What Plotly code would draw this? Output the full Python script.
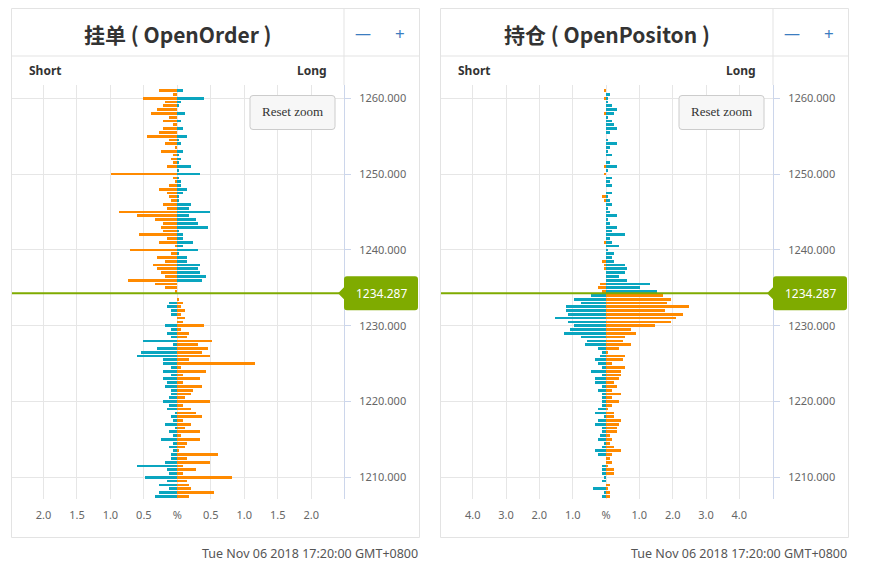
import plotly.graph_objects as go

# page body has an 8px margin: figure sized to fit, coordinates given in window pixels
OFF = 8
W, H = 860, 553
PRICE = 1234.287

LEVELS = [
    1261.0, 1260.5, 1260.0, 1259.5, 1259.0, 1258.5, 1258.0, 1257.5, 1257.0, 1256.5,
    1256.0, 1255.5, 1255.0, 1254.5, 1254.0, 1253.5, 1253.0, 1252.5, 1252.0, 1251.5,
    1251.0, 1250.5, 1250.0, 1249.5, 1249.0, 1248.5, 1248.0, 1247.5, 1247.0, 1246.5,
    1246.0, 1245.5, 1245.0, 1244.5, 1244.0, 1243.5, 1243.0, 1242.5, 1242.0, 1241.5,
    1241.0, 1240.5, 1240.0, 1239.5, 1239.0, 1238.5, 1238.0, 1237.5, 1237.0, 1236.5,
    1236.0, 1235.5, 1235.0, 1234.5, 1234.0, 1233.5, 1233.0, 1232.5, 1232.0, 1231.5,
    1231.0, 1230.5, 1230.0, 1229.5, 1229.0, 1228.5, 1228.0, 1227.5, 1227.0, 1226.5,
    1226.0, 1225.5, 1225.0, 1224.5, 1224.0, 1223.5, 1223.0, 1222.5, 1222.0, 1221.5,
    1221.0, 1220.5, 1220.0, 1219.5, 1219.0, 1218.5, 1218.0, 1217.5, 1217.0, 1216.5,
    1216.0, 1215.5, 1215.0, 1214.5, 1214.0, 1213.5, 1213.0, 1212.5, 1212.0, 1211.5,
    1211.0, 1210.5, 1210.0, 1209.5, 1209.0, 1208.5, 1208.0, 1207.5,
]

# OpenOrder (挂单) — percentage at each price level
ORDER_SHORT = [
    0.28, 0.06, 0.52, 0.18, 0.21, 0.31, 0.40, 0.12, 0.21, 0.06,
    0.21, 0.28, 0.46, 0.12, 0.18, 0.03, 0.24, 0.06, 0.09, 0.06,
    0.15, 0.00, 0.99, 0.06, 0.03, 0.12, 0.28, 0.15, 0.12, 0.09,
    0.21, 0.15, 0.87, 0.61, 0.34, 0.21, 0.24, 0.21, 0.58, 0.15,
    0.28, 0.03, 0.70, 0.09, 0.31, 0.18, 0.37, 0.31, 0.24, 0.18,
    0.73, 0.34, 0.18, 0.03, 0.00, 0.00, 0.12, 0.15, 0.09, 0.09,
    0.00, 0.00, 0.18, 0.09, 0.15, 0.09, 0.52, 0.06, 0.31, 0.55,
    0.61, 0.21, 0.21, 0.09, 0.21, 0.09, 0.21, 0.15, 0.18, 0.09,
    0.09, 0.12, 0.21, 0.12, 0.15, 0.03, 0.09, 0.06, 0.18, 0.03,
    0.12, 0.06, 0.24, 0.06, 0.12, 0.06, 0.09, 0.09, 0.18, 0.61,
    0.15, 0.12, 0.49, 0.15, 0.28, 0.12, 0.28, 0.34,
]
ORDER_LONG = [
    0.09, 0.00, 0.40, 0.06, 0.03, 0.00, 0.12, 0.00, 0.06, 0.00,
    0.09, 0.00, 0.15, 0.03, 0.06, 0.00, 0.09, 0.03, 0.06, 0.03,
    0.21, 0.03, 0.34, 0.03, 0.06, 0.06, 0.15, 0.09, 0.03, 0.03,
    0.21, 0.18, 0.49, 0.18, 0.28, 0.31, 0.46, 0.03, 0.09, 0.09,
    0.24, 0.09, 0.31, 0.03, 0.15, 0.15, 0.34, 0.31, 0.34, 0.43,
    0.37, 0.00, 0.00, 0.00, 0.00, 0.03, 0.09, 0.06, 0.12, 0.06,
    0.12, 0.09, 0.40, 0.06, 0.18, 0.15, 0.52, 0.31, 0.46, 0.37,
    0.49, 0.18, 1.16, 0.06, 0.43, 0.09, 0.34, 0.09, 0.37, 0.24,
    0.21, 0.12, 0.49, 0.09, 0.21, 0.28, 0.37, 0.09, 0.21, 0.12,
    0.34, 0.06, 0.34, 0.15, 0.12, 0.03, 0.61, 0.15, 0.49, 0.09,
    0.28, 0.09, 0.81, 0.15, 0.18, 0.21, 0.55, 0.18,
]

# OpenPositon (持仓)
POS_SHORT = [
    0.06, 0.00, 0.06, 0.00, 0.00, 0.00, 0.06, 0.00, 0.00, 0.00,
    0.00, 0.00, 0.00, 0.00, 0.00, 0.00, 0.00, 0.00, 0.00, 0.00,
    0.06, 0.00, 0.06, 0.00, 0.00, 0.00, 0.00, 0.00, 0.12, 0.06,
    0.00, 0.00, 0.00, 0.00, 0.00, 0.00, 0.00, 0.00, 0.00, 0.00,
    0.06, 0.00, 0.00, 0.00, 0.00, 0.12, 0.06, 0.06, 0.00, 0.00,
    0.00, 0.18, 0.24, 0.12, 0.45, 0.96, 0.75, 1.20, 1.20, 1.14,
    1.53, 1.14, 0.96, 1.08, 1.26, 0.75, 0.57, 0.63, 0.24, 0.12,
    0.18, 0.33, 0.24, 0.12, 0.45, 0.12, 0.33, 0.33, 0.12, 0.24,
    0.12, 0.12, 0.12, 0.12, 0.24, 0.33, 0.06, 0.24, 0.33, 0.12,
    0.12, 0.18, 0.24, 0.06, 0.12, 0.33, 0.24, 0.00, 0.00, 0.12,
    0.12, 0.12, 0.06, 0.12, 0.00, 0.39, 0.06, 0.12,
]
POS_LONG = [
    0.00, 0.12, 0.06, 0.06, 0.18, 0.33, 0.24, 0.06, 0.18, 0.24,
    0.33, 0.12, 0.00, 0.06, 0.33, 0.12, 0.06, 0.18, 0.00, 0.12,
    0.33, 0.06, 0.00, 0.18, 0.12, 0.18, 0.00, 0.18, 0.06, 0.12,
    0.18, 0.06, 0.12, 0.33, 0.06, 0.12, 0.33, 0.18, 0.57, 0.12,
    0.18, 0.39, 0.06, 0.24, 0.18, 0.24, 0.57, 0.63, 0.57, 0.39,
    0.63, 1.32, 1.02, 1.53, 1.71, 1.95, 1.83, 2.49, 1.77, 2.30,
    2.10, 1.95, 1.47, 0.75, 0.90, 0.57, 0.51, 0.75, 0.39, 0.06,
    0.57, 0.51, 0.18, 0.57, 0.45, 0.45, 0.39, 0.24, 0.33, 0.18,
    0.45, 0.18, 0.39, 0.18, 0.06, 0.24, 0.24, 0.45, 0.39, 0.33,
    0.33, 0.12, 0.18, 0.12, 0.24, 0.45, 0.18, 0.12, 0.18, 0.06,
    0.24, 0.24, 0.00, 0.00, 0.12, 0.06, 0.12, 0.12,
]

X1_TICKS = [-2, -1.5, -1, -0.5, 0, 0.5, 1, 1.5, 2]
X1_TEXT = ["2.0", "1.5", "1.0", "0.5", "%", "0.5", "1.0", "1.5", "2.0"]
X2_TICKS = [-4, -3, -2, -1, 0, 1, 2, 3, 4]
X2_TEXT = ["4.0", "3.0", "2.0", "1.0", "%", "1.0", "2.0", "3.0", "4.0"]
Y_TICKS = [1210, 1220, 1230, 1240, 1250, 1260]

TITLES = ["挂单 ( OpenOrder )", "持仓 ( OpenPositon )"]
DATE_TEXT = "Tue Nov 06 2018 17:20:00 GMT+0800"

ORANGE = "#ff8a00"
TEAL = "#0aa5bf"
GREEN = "#7fab00"
BORDER = "#e3e3e3"
GRID = "#e6e6e6"
AXIS = "#ccd6eb"


def fx(x):
    return (x - OFF) / W


def fy(y):
    return 1 - (y - OFF) / H


def rpath(x0, y0, x1, y1, r):
    pts = [
        (x0 + r, y0), (x1 - r, y0), "Q", (x1, y0), (x1, y0 + r),
        (x1, y1 - r), "Q", (x1, y1), (x1 - r, y1), (x0 + r, y1), "Q", (x0, y1), (x0, y1 - r),
        (x0, y0 + r), "Q", (x0, y0), (x0 + r, y0),
    ]
    s = "M %f,%f" % (fx(pts[0][0]), fy(pts[0][1]))
    i = 1
    while i < len(pts):
        p = pts[i]
        if p == "Q":
            a, b = pts[i + 1], pts[i + 2]
            s += " Q %f,%f %f,%f" % (fx(a[0]), fy(a[1]), fx(b[0]), fy(b[1]))
            i += 3
        else:
            s += " L %f,%f" % (fx(p[0]), fy(p[1]))
            i += 1
    return s + " Z"


fig = go.Figure()

panels = [
    dict(short=ORDER_SHORT, long=ORDER_LONG, xa="x", ya="y", box=(11.5, 419.5), plot=(12, 344)),
    dict(short=POS_SHORT, long=POS_LONG, xa="x2", ya="y2", box=(440.5, 848.5), plot=(441, 773)),
]

for p in panels:
    short_colors = [ORANGE if lv > PRICE else TEAL for lv in LEVELS]
    long_colors = [TEAL if lv > PRICE else ORANGE for lv in LEVELS]
    fig.add_trace(go.Bar(
        y=LEVELS, x=[-v for v in p["short"]], orientation="h", width=0.36,
        marker=dict(color=short_colors, line=dict(width=0)),
        xaxis=p["xa"], yaxis=p["ya"], showlegend=False, hoverinfo="skip",
    ))
    fig.add_trace(go.Bar(
        y=LEVELS, x=p["long"], orientation="h", width=0.36,
        marker=dict(color=long_colors, line=dict(width=0)),
        xaxis=p["xa"], yaxis=p["ya"], showlegend=False, hoverinfo="skip",
    ))

Y_RANGE = [1207.14, 1261.75]
Y_DOMAIN = [fy(499), fy(85)]
tickfont = dict(family="Noto Sans", size=11, color="#666666")

common_x = dict(showgrid=True, gridcolor=GRID, gridwidth=1, zeroline=False, showline=False,
                ticks="outside", ticklen=6, tickcolor="rgba(0,0,0,0)", tickfont=tickfont,
                tickmode="array", fixedrange=True)
common_y = dict(range=Y_RANGE, domain=Y_DOMAIN, side="right", tickmode="array", tickvals=Y_TICKS,
                tickformat=".3f", showgrid=True, gridcolor=GRID, zeroline=False,
                showline=True, linecolor=AXIS, linewidth=1, ticks="outside", ticklen=6,
                tickcolor=AXIS, tickfont=tickfont, ticklabelstandoff=6, fixedrange=True)

fig.update_layout(
    width=W, height=H, margin=dict(l=0, r=0, t=0, b=0),
    paper_bgcolor="white", plot_bgcolor="white", barmode="overlay", bargap=0,
    xaxis=dict(common_x, domain=[fx(12), fx(344)], range=[-2.47, 2.49],
               tickvals=X1_TICKS, ticktext=X1_TEXT, anchor="y"),
    yaxis=dict(common_y, anchor="x"),
    xaxis2=dict(common_x, domain=[fx(441), fx(773)], range=[-4.95, 5.01],
                tickvals=X2_TICKS, ticktext=X2_TEXT, anchor="y2"),
    yaxis2=dict(common_y, anchor="x2"),
)

shapes = []
annotations = []
for i, p in enumerate(panels):
    bx0, bx1 = p["box"]
    px0, px1 = p["plot"]
    yref = p["ya"]
    # panel box and header lines
    shapes.append(dict(type="rect", xref="paper", yref="paper", x0=fx(bx0), x1=fx(bx1),
                       y0=fy(8.5), y1=fy(537.5), line=dict(color=BORDER, width=1), layer="below"))
    shapes.append(dict(type="line", xref="paper", yref="paper", x0=fx(bx0), x1=fx(bx1),
                       y0=fy(56), y1=fy(56), line=dict(color=BORDER, width=1)))
    shapes.append(dict(type="line", xref="paper", yref="paper", x0=fx(px1), x1=fx(px1),
                       y0=fy(8.5), y1=fy(85), line=dict(color=BORDER, width=1)))
    # current price line
    shapes.append(dict(type="line", xref="paper", yref=yref, x0=fx(px0), x1=fx(px1 - 5),
                       y0=PRICE, y1=PRICE, line=dict(color=GREEN, width=2)))
    # price label
    shapes.append(dict(type="path", xref="paper", yref=yref, xsizemode="pixel", ysizemode="pixel",
                       xanchor=fx(px1), yanchor=PRICE,
                       path="M -6,0 L 0,6 L 0,14 Q 0,17 3,17 L 71,17 Q 74,17 74,14 L 74,-14 "
                            "Q 74,-17 71,-17 L 3,-17 Q 0,-17 0,-14 L 0,-6 Z",
                       fillcolor=GREEN, line=dict(width=0)))
    annotations.append(dict(text="1234.287", xref="paper", yref=yref, x=fx(px1 + 37), y=PRICE,
                            showarrow=False, font=dict(family="Noto Sans", size=12, color="white"),
                            xanchor="center", yanchor="middle"))
    # reset zoom button
    rx0 = px0 + 238
    shapes.append(dict(type="path", xref="paper", yref="paper", path=rpath(rx0, 95.5, rx0 + 85, 129.5, 3),
                       fillcolor="#f7f7f7", line=dict(color="#cccccc", width=1)))
    annotations.append(dict(text="Reset zoom", xref="paper", yref="paper", x=fx(rx0 + 42.5), y=fy(112),
                            showarrow=False, font=dict(family="Liberation Serif", size=13, color="#333333"),
                            xanchor="center", yanchor="middle"))
    # titles and header
    annotations.append(dict(text="<b>%s</b>" % TITLES[i], xref="paper", yref="paper",
                            x=fx((px0 + px1) / 2 + 0), y=fy(34), showarrow=False,
                            font=dict(family="Noto Sans CJK SC", size=21, color="#333333"),
                            xanchor="center", yanchor="middle"))
    annotations.append(dict(text="—", xref="paper", yref="paper", x=fx(px1 + 19), y=fy(33),
                            showarrow=False, font=dict(family="Noto Sans", size=16, color="#3b7dc0"),
                            xanchor="center", yanchor="middle"))
    annotations.append(dict(text="+", xref="paper", yref="paper", x=fx(px1 + 56), y=fy(34),
                            showarrow=False, font=dict(family="Noto Sans", size=17, color="#3b7dc0"),
                            xanchor="center", yanchor="middle"))
    annotations.append(dict(text="<b>Short</b>", xref="paper", yref="paper", x=fx(px0 + 15), y=fy(71),
                            showarrow=False, font=dict(family="Noto Sans", size=12, color="#333333"),
                            xanchor="left", yanchor="middle"))
    annotations.append(dict(text="<b>Long</b>", xref="paper", yref="paper", x=fx(px1 - 15), y=fy(71),
                            showarrow=False, font=dict(family="Noto Sans", size=12, color="#333333"),
                            xanchor="right", yanchor="middle"))
    annotations.append(dict(text=DATE_TEXT, xref="paper", yref="paper", x=fx(bx1), y=fy(553),
                            showarrow=False, font=dict(family="Noto Sans", size=12.5, color="#555555"),
                            xanchor="right", yanchor="middle"))

fig.update_layout(shapes=shapes, annotations=annotations)
fig.write_html("out.html")
